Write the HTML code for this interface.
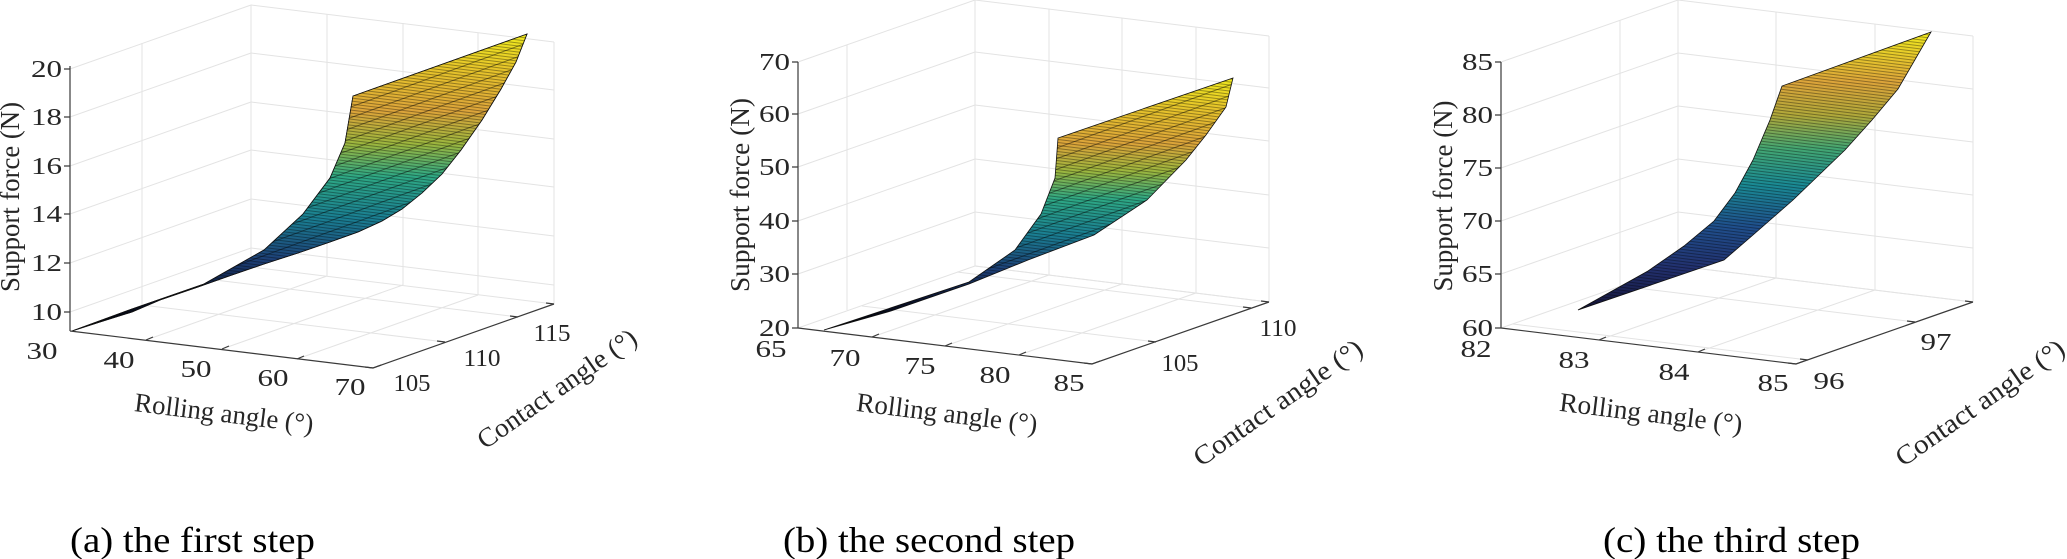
<!DOCTYPE html>
<html><head><meta charset="utf-8"><style>
html,body{margin:0;padding:0;background:#fff}
svg{display:block}
text{font-family:"Liberation Serif",serif;fill:#262626}
.g{stroke:#e3e3e3;stroke-width:1;fill:none}
.a{stroke:#3a3a3a;stroke-width:1.2;fill:none}
.t{font-size:24px}
.l{font-size:27px}
.c{font-size:36px;fill:#000}
</style></head><body>
<svg width="2067" height="559" viewBox="0 0 2067 559" xmlns="http://www.w3.org/2000/svg">
<defs>
<linearGradient id="g1" gradientUnits="userSpaceOnUse" x1="0" y1="331" x2="0" y2="34">
<stop offset="0" stop-color="#000"/><stop offset="0.12" stop-color="#0b1430"/><stop offset="0.24" stop-color="#1d3f76"/><stop offset="0.38" stop-color="#1a7f92"/><stop offset="0.52" stop-color="#2ea884"/><stop offset="0.63" stop-color="#9cb63e"/><stop offset="0.74" stop-color="#dca43a"/><stop offset="0.88" stop-color="#e6c42a"/><stop offset="1" stop-color="#f0ea1e"/>
</linearGradient>
<linearGradient id="g2" gradientUnits="userSpaceOnUse" x1="0" y1="330" x2="0" y2="78">
<stop offset="0" stop-color="#000"/><stop offset="0.12" stop-color="#0b1430"/><stop offset="0.24" stop-color="#1d3f76"/><stop offset="0.38" stop-color="#1a7f92"/><stop offset="0.52" stop-color="#2ea884"/><stop offset="0.63" stop-color="#9cb63e"/><stop offset="0.74" stop-color="#dca43a"/><stop offset="0.88" stop-color="#e6c42a"/><stop offset="1" stop-color="#f0ea1e"/>
</linearGradient>
<linearGradient id="g3" gradientUnits="userSpaceOnUse" x1="0" y1="310" x2="0" y2="32">
<stop offset="0" stop-color="#141438"/><stop offset="0.15" stop-color="#22306e"/><stop offset="0.3" stop-color="#1f4f8c"/><stop offset="0.45" stop-color="#1a8a94"/><stop offset="0.58" stop-color="#43a672"/><stop offset="0.7" stop-color="#b0a83a"/><stop offset="0.82" stop-color="#dca43a"/><stop offset="1" stop-color="#f0ea1e"/>
</linearGradient>
<pattern id="m" width="3" height="3" patternUnits="userSpaceOnUse" patternTransform="rotate(7)">
<rect width="3" height="1" fill="#000" opacity="0.35"/>
</pattern>
<pattern id="m2" width="10" height="10" patternUnits="userSpaceOnUse" patternTransform="rotate(-20)">
<rect width="10" height="1" fill="#000" opacity="0.45"/>
</pattern>
</defs>

<!-- ===== Panel 1 ===== -->
<g>
<path class="g" d="M70,312L251,248M70,263L251,199M70,214L251,150M70,166L251,102M70,117L251,53M70,69L251,5"/>
<path class="g" d="M251,248L554,285M251,199L554,236M251,150L554,187M251,102L554,139M251,53L554,90M251,5L554,42"/>
<path class="g" d="M142,305V43M251,267V5M327,276V14M403,285V23M478,295V33M554,304V42"/>
<path class="g" d="M146,340L327,276M222,349L403,285M297,359L478,295M142,305L445,342M215,280L518,317M251,267L554,304"/>
<path id="s1" d="M72,331L132,309L204,284L264,250L303,214L330,178L345,143L353,96L527,34L516,62L501,89L482,120L461,150L442,174L422,193L402,209L382,221L358,232L330,242L298,253L264,264L232,275L198,287L160,300L132,312L100,322Z" fill="url(#g1)" stroke="#111" stroke-width="0.8"/>
<use href="#s1" fill="url(#m)" stroke="none"/>
<path d="M72,331L132,309L204,284L264,250L303,214L330,178L345,143L353,96L527,34L516,62L501,89L482,120L461,150L442,174L422,193L402,209L382,221L358,232L330,242L298,253L264,264L232,275L198,287L160,300L132,312L100,322Z" fill="url(#m)"/>
<path d="M72,331L132,309L204,284L264,250L303,214L330,178L345,143L353,96L527,34L516,62L501,89L482,120L461,150L442,174L422,193L402,209L382,221L358,232L330,242L298,253L264,264L232,275L198,287L160,300L132,312L100,322Z" fill="url(#m2)"/>
<path class="a" d="M70,331V66M70,331L373,368L554,304"/>
<path class="a" d="M64,312H70M64,263H70M64,214H70M64,166H70M64,117H70M64,69H70"/>
<path class="a" d="M146,340l7,-3M222,349l7,-3M297,359l7,-3M373,368l8,-3M373,368l-8,-1M445,342l-8,-1M518,317l-8,-1M554,304l-8,-1"/>
<g class="t" text-anchor="end">
<text x="62" y="320" textLength="31" lengthAdjust="spacingAndGlyphs">10</text>
<text x="62" y="271" textLength="31" lengthAdjust="spacingAndGlyphs">12</text>
<text x="62" y="222" textLength="31" lengthAdjust="spacingAndGlyphs">14</text>
<text x="62" y="174" textLength="31" lengthAdjust="spacingAndGlyphs">16</text>
<text x="62" y="125" textLength="31" lengthAdjust="spacingAndGlyphs">18</text>
<text x="62" y="77" textLength="31" lengthAdjust="spacingAndGlyphs">20</text>
</g>
<g class="t" text-anchor="middle">
<text x="42" y="359" textLength="31" lengthAdjust="spacingAndGlyphs">30</text>
<text x="119" y="368" textLength="31" lengthAdjust="spacingAndGlyphs">40</text>
<text x="196" y="377" textLength="31" lengthAdjust="spacingAndGlyphs">50</text>
<text x="273" y="386" textLength="31" lengthAdjust="spacingAndGlyphs">60</text>
<text x="350" y="395" textLength="31" lengthAdjust="spacingAndGlyphs">70</text>
<text x="412" y="391" textLength="37" lengthAdjust="spacingAndGlyphs">105</text>
<text x="482" y="366" textLength="37" lengthAdjust="spacingAndGlyphs">110</text>
<text x="552" y="341" textLength="37" lengthAdjust="spacingAndGlyphs">115</text>
</g>
<text class="l" transform="translate(223,422) rotate(7)" text-anchor="middle" textLength="180" lengthAdjust="spacingAndGlyphs">Rolling angle (°)</text>
<text class="l" transform="translate(562,396) rotate(-35)" text-anchor="middle" textLength="188" lengthAdjust="spacingAndGlyphs">Contact angle (°)</text>
<text class="l" transform="translate(19,197) rotate(-90)" text-anchor="middle" textLength="190" lengthAdjust="spacingAndGlyphs">Support force (N)</text>
<text class="c" x="70" y="552" textLength="245" lengthAdjust="spacingAndGlyphs">(a) the first step</text>
</g>

<!-- ===== Panel 2 ===== -->
<g>
<path class="g" d="M798,328L975,266M798,274L975,212M798,221L975,159M798,167L975,105M798,114L975,52M798,62L975,0"/>
<path class="g" d="M975,266L1269,302M975,212L1269,248M975,159L1269,195M975,105L1269,141M975,52L1269,88M975,0L1269,36"/>
<path class="g" d="M847,310V45M975,266V0M1049,275V9M1122,284V18M1196,293V27M1269,302V36"/>
<path class="g" d="M872,337L1049,275M945,346L1122,284M1019,355L1196,293M862,306L1156,342M957,272L1251,308M975,266L1269,302"/>
<path d="M824,330L969,282L1015,250L1041,214L1055,178L1058,138L1233,78L1226,107L1206,135L1186,160L1147,200L1094,235L1028,260L969,284L891,311Z" fill="url(#g2)" stroke="#111" stroke-width="0.8"/>
<path d="M824,330L969,282L1015,250L1041,214L1055,178L1058,138L1233,78L1226,107L1206,135L1186,160L1147,200L1094,235L1028,260L969,284L891,311Z" fill="url(#m)"/>
<path d="M824,330L969,282L1015,250L1041,214L1055,178L1058,138L1233,78L1226,107L1206,135L1186,160L1147,200L1094,235L1028,260L969,284L891,311Z" fill="url(#m2)"/>
<path class="a" d="M798,328V62M798,328L1092,364L1269,302"/>
<path class="a" d="M792,328H798M792,274H798M792,221H798M792,167H798M792,114H798M792,62H798"/>
<path class="a" d="M872,337l7,-3M945,346l7,-3M1019,355l7,-3M1092,364l8,-3M1092,364l-8,-1M1156,342l-8,-1M1251,308l-8,-1M1269,302l-8,-1"/>
<g class="t" text-anchor="end">
<text x="790" y="336" textLength="31" lengthAdjust="spacingAndGlyphs">20</text>
<text x="790" y="282" textLength="31" lengthAdjust="spacingAndGlyphs">30</text>
<text x="790" y="229" textLength="31" lengthAdjust="spacingAndGlyphs">40</text>
<text x="790" y="175" textLength="31" lengthAdjust="spacingAndGlyphs">50</text>
<text x="790" y="122" textLength="31" lengthAdjust="spacingAndGlyphs">60</text>
<text x="790" y="70" textLength="31" lengthAdjust="spacingAndGlyphs">70</text>
</g>
<g class="t" text-anchor="middle">
<text x="771" y="357" textLength="31" lengthAdjust="spacingAndGlyphs">65</text>
<text x="845" y="366" textLength="31" lengthAdjust="spacingAndGlyphs">70</text>
<text x="920" y="374" textLength="31" lengthAdjust="spacingAndGlyphs">75</text>
<text x="995" y="383" textLength="31" lengthAdjust="spacingAndGlyphs">80</text>
<text x="1069" y="391" textLength="31" lengthAdjust="spacingAndGlyphs">85</text>
<text x="1180" y="371" textLength="37" lengthAdjust="spacingAndGlyphs">105</text>
<text x="1278" y="336" textLength="37" lengthAdjust="spacingAndGlyphs">110</text>
</g>
<text class="l" transform="translate(946,422) rotate(7)" text-anchor="middle" textLength="182" lengthAdjust="spacingAndGlyphs">Rolling angle (°)</text>
<text class="l" transform="translate(1283,410) rotate(-35)" text-anchor="middle" textLength="200" lengthAdjust="spacingAndGlyphs">Contact angle (°)</text>
<text class="l" transform="translate(749,195) rotate(-90)" text-anchor="middle" textLength="194" lengthAdjust="spacingAndGlyphs">Support force (N)</text>
<text class="c" x="783" y="552" textLength="292" lengthAdjust="spacingAndGlyphs">(b) the second step</text>
</g>

<!-- ===== Panel 3 ===== -->
<g>
<path class="g" d="M1501,328L1678,266M1501,274L1678,212M1501,221L1678,159M1501,168L1678,106M1501,115L1678,53M1501,62L1678,0"/>
<path class="g" d="M1678,266L1973,302M1678,212L1973,248M1678,159L1973,195M1678,106L1973,142M1678,53L1973,89M1678,0L1973,36"/>
<path class="g" d="M1620,286V20M1678,266V0M1776,278V12M1875,290V24M1973,302V36"/>
<path class="g" d="M1599,340L1776,278M1698,352L1875,290M1513,324L1808,360M1620,286L1915,322M1678,266L1973,302"/>
<path d="M1578,310L1648,271L1684,246L1714,221L1735,193L1753,160L1770,120L1782,86L1931,32L1898,89L1872,120L1845,150L1793,200L1753,235L1724,260Z" fill="url(#g3)" stroke="#111" stroke-width="0.8"/>
<path d="M1578,310L1648,271L1684,246L1714,221L1735,193L1753,160L1770,120L1782,86L1931,32L1898,89L1872,120L1845,150L1793,200L1753,235L1724,260Z" fill="url(#m)"/>
<path class="a" d="M1501,328V62M1501,328L1796,364L1973,302"/>
<path class="a" d="M1495,328H1501M1495,274H1501M1495,221H1501M1495,168H1501M1495,115H1501M1495,62H1501"/>
<path class="a" d="M1599,340l7,-3M1698,352l7,-3M1796,364l8,-3M1796,364l-8,-1M1808,360l-8,-1M1915,322l-8,-1M1973,302l-8,-1"/>
<g class="t" text-anchor="end">
<text x="1493" y="336" textLength="31" lengthAdjust="spacingAndGlyphs">60</text>
<text x="1493" y="282" textLength="31" lengthAdjust="spacingAndGlyphs">65</text>
<text x="1493" y="229" textLength="31" lengthAdjust="spacingAndGlyphs">70</text>
<text x="1493" y="176" textLength="31" lengthAdjust="spacingAndGlyphs">75</text>
<text x="1493" y="123" textLength="31" lengthAdjust="spacingAndGlyphs">80</text>
<text x="1493" y="70" textLength="31" lengthAdjust="spacingAndGlyphs">85</text>
</g>
<g class="t" text-anchor="middle">
<text x="1476" y="357" textLength="31" lengthAdjust="spacingAndGlyphs">82</text>
<text x="1574" y="368" textLength="31" lengthAdjust="spacingAndGlyphs">83</text>
<text x="1674" y="380" textLength="31" lengthAdjust="spacingAndGlyphs">84</text>
<text x="1773" y="391" textLength="31" lengthAdjust="spacingAndGlyphs">85</text>
<text x="1829" y="389" textLength="31" lengthAdjust="spacingAndGlyphs">96</text>
<text x="1936" y="350" textLength="31" lengthAdjust="spacingAndGlyphs">97</text>
</g>
<text class="l" transform="translate(1650,422) rotate(7)" text-anchor="middle" textLength="184" lengthAdjust="spacingAndGlyphs">Rolling angle (°)</text>
<text class="l" transform="translate(1985,410) rotate(-35)" text-anchor="middle" textLength="200" lengthAdjust="spacingAndGlyphs">Contact angle (°)</text>
<text class="l" transform="translate(1452,196) rotate(-90)" text-anchor="middle" textLength="191" lengthAdjust="spacingAndGlyphs">Support force (N)</text>
<text class="c" x="1603" y="552" textLength="257" lengthAdjust="spacingAndGlyphs">(c) the third step</text>
</g>
</svg>
</body></html>
